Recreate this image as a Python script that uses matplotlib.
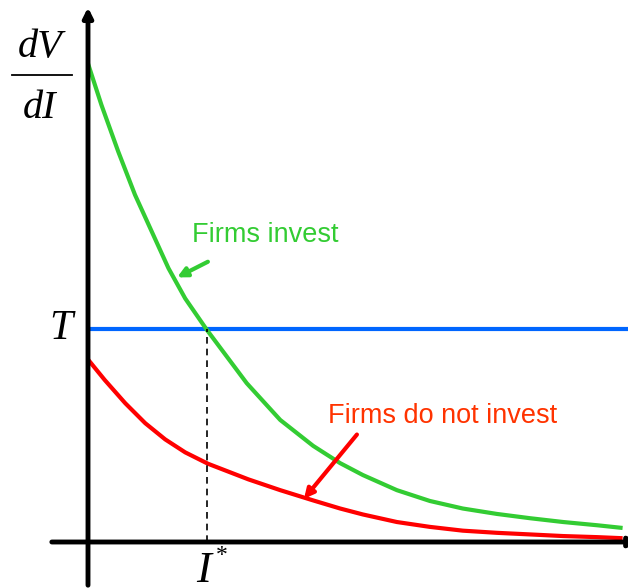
import numpy as np
import matplotlib
matplotlib.use("Agg")
import matplotlib.pyplot as plt

# Curvas (I en unidades arbitrarias, dV/dI)
I_invest = [0, 0.25, 0.56, 0.87, 1.18, 1.49, 1.80, 2.2, 2.94, 3.56, 4.17, 4.67,
            5.09, 5.72, 6.33, 6.94, 7.57, 8.19, 8.8, 9.43, 9.9]
dV_invest = [8.86, 8.09, 7.23, 6.43, 5.75, 5.07, 4.51, 3.93, 2.94, 2.26, 1.78, 1.46,
             1.24, 0.96, 0.76, 0.62, 0.52, 0.44, 0.37, 0.31, 0.26]

I_no = [0, 0.31, 0.69, 1.06, 1.43, 1.80, 2.22, 2.97, 3.56, 4.17, 4.67, 5.09,
        5.72, 6.33, 6.94, 7.57, 8.19, 8.8, 9.43, 9.9]
dV_no = [3.38, 3.0, 2.57, 2.20, 1.90, 1.66, 1.45, 1.16, 0.96, 0.77, 0.62, 0.51,
         0.37, 0.28, 0.21, 0.17, 0.14, 0.11, 0.09, 0.07]

T = 3.94        # umbral
I_star = 2.2    # interseccion
x_max = 10.0

verde = '#33cc33'
rojo = '#ff0000'
azul = '#0066ff'

fig = plt.figure(figsize=(6.28, 5.88), dpi=100)
ax = fig.add_axes([0, 0, 1, 1])
ax.set_xlim(-88 / 54, 540 / 54)
ax.set_ylim(-46 / 54, 542 / 54)
ax.axis('off')

# Ejes con flechas
flecha = dict(arrowstyle='-|>', color='black', lw=3.5, mutation_scale=14,
              shrinkA=0, shrinkB=0)
ax.annotate('', xy=(0, 9.9), xytext=(0, -0.8), arrowprops=flecha,
            annotation_clip=False)
ax.annotate('', xy=(10.2, 0), xytext=(-0.67, 0), arrowprops=flecha,
            annotation_clip=False)

# Curvas
estilo = dict(lw=3, solid_capstyle='butt', solid_joinstyle='round')
ax.plot([0, x_max + 0.1], [T, T], color=azul, **estilo)
ax.plot(I_invest, dV_invest, color=verde, **estilo)
ax.plot(I_no, dV_no, color=rojo, **estilo)
ax.plot([I_star, I_star], [0, T], color='black', lw=1.2, ls=(0, (4, 3)))

# Etiquetas
serif = dict(family='Liberation Serif', style='italic', color='black')
ax.text(-0.89, 8.98, 'dV', fontsize=29, ha='center', va='baseline', **serif)
ax.plot([-1.4, -0.3], [8.65, 8.65], color='black', lw=1.3)
ax.text(-0.89, 7.85, 'dI', fontsize=29, ha='center', va='baseline', **serif)
ax.text(-0.28, T, 'T', fontsize=30, ha='right', va='center', **serif)
ax.text(I_star - 0.05, -0.75, 'I', fontsize=32, ha='center', va='baseline', **serif)
ax.text(I_star + 0.27, -0.36, '*', fontsize=17, ha='center', va='baseline',
        family='Liberation Serif', color='black')

sans = dict(family='Liberation Sans', fontsize=19.5, va='baseline', ha='left')
ax.text(1.93, 5.56, 'Firms invest', color=verde, **sans)
ax.text(4.44, 2.20, 'Firms do not invest', color='#ff3300', **sans)

ax.annotate('', xy=(1.65, 4.9), xytext=(2.22, 5.19),
            arrowprops=dict(arrowstyle='-|>', color=verde, lw=3,
                            mutation_scale=14, shrinkA=0, shrinkB=0))
ax.annotate('', xy=(4.0, 0.8), xytext=(4.98, 1.99),
            arrowprops=dict(arrowstyle='-|>', color=rojo, lw=3,
                            mutation_scale=14, shrinkA=0, shrinkB=0))

plt.savefig('out.png', dpi=100)
